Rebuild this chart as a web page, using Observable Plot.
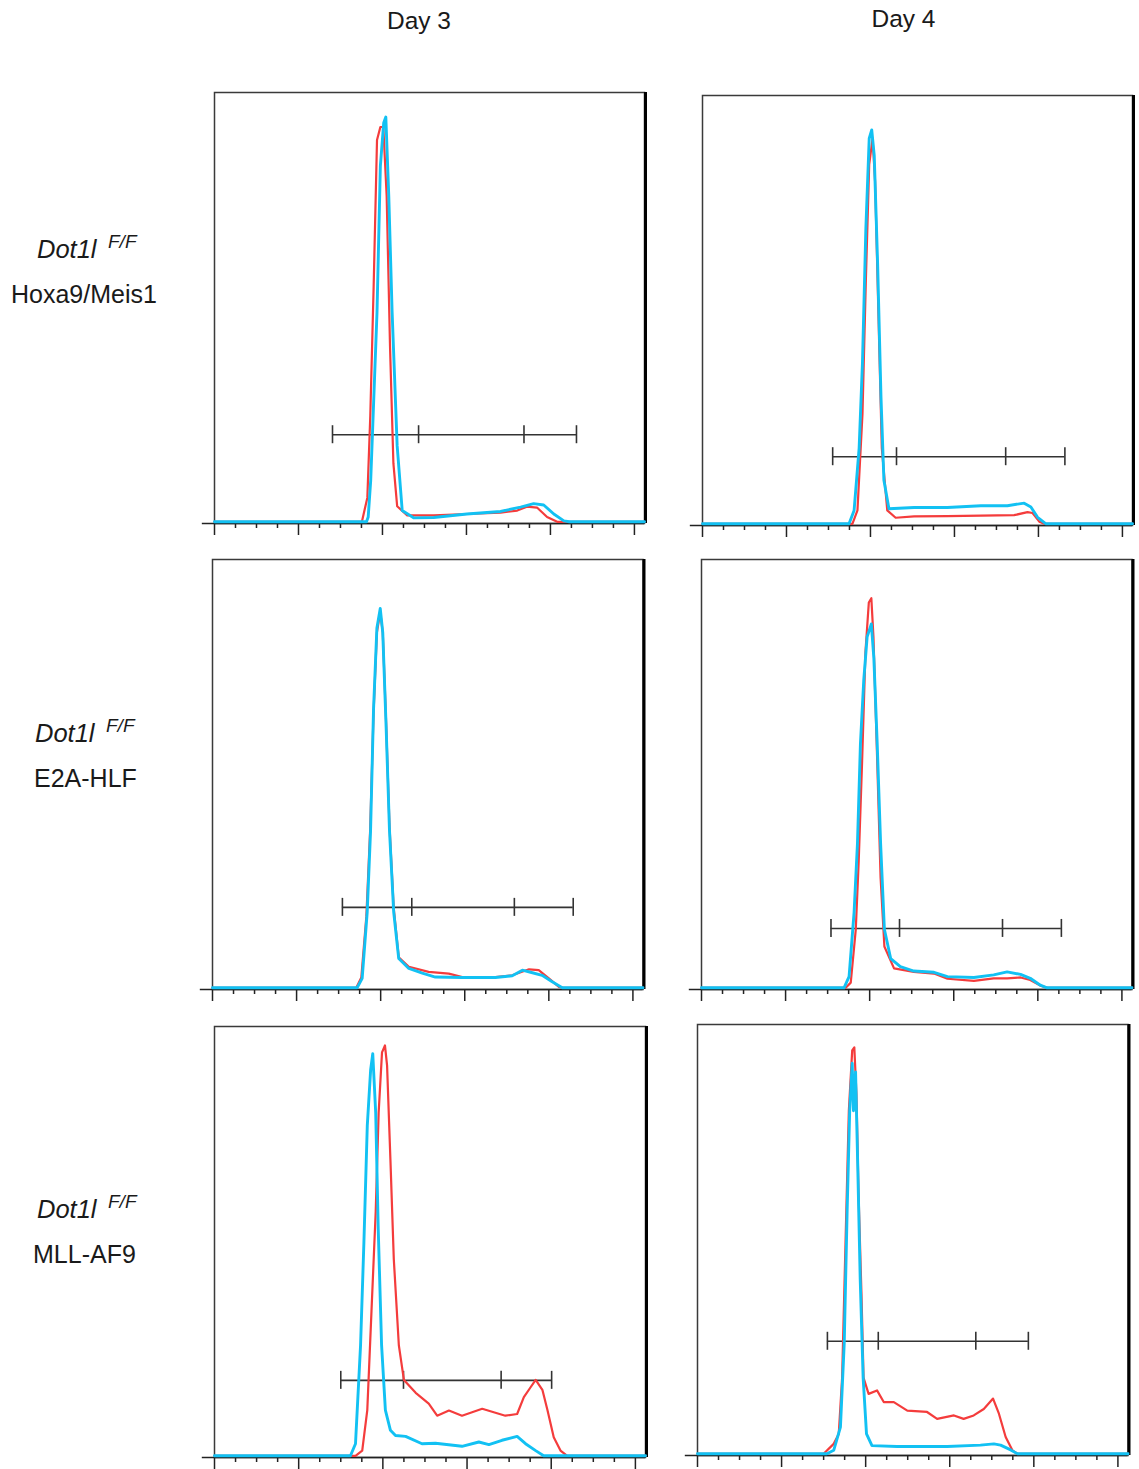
<!DOCTYPE html>
<html><head><meta charset="utf-8">
<script src="https://cdn.jsdelivr.net/npm/d3@7"></script>
<script src="https://cdn.jsdelivr.net/npm/@observablehq/plot@0.6"></script>
<style>
body{margin:0;background:#fff;}
#root{position:relative;width:1139px;height:1469px;background:#fff;font-family:"Liberation Sans",Arial,sans-serif;color:#1a1a1a;overflow:hidden;}
.lbl{position:absolute;white-space:nowrap;line-height:1;}
.panel{position:absolute;}
</style></head><body><div id="root"></div>
<script>
// ---------- text ----------
const columnTitles = ["Day 3", "Day 4"];
const geneName = "Dot1l";
const genotype = "F/F";
const rowLines = ["Hoxa9/Meis1", "E2A-HLF", "MLL-AF9"];

// ---------- axis ticks (channel units, 0–1024) ----------
const xDomain = [0, 1024];
const majorTicks = [0, 200, 400, 600, 800, 1000];
const minorTicks = [50, 100, 150, 250, 300, 350, 450, 500, 550, 650, 700, 750, 850, 900, 950];

// ---------- histogram series: [channel, % of panel height] ----------
const hoxa9Day3Red = [[0,0.4],[351,0.4],[364,6],[371,25],[379,55],[387,89],[395,92],[402,92],[410,76],[418,41],[426,14],[435,4],[459,1.9],[522,1.9],[601,2.2],[681,2.5],[721,3],[744,3.9],[768,3.7],[792,1.5],[816,0.4],[1024,0.4]];
const hoxa9Day3Cyan = [[0,0.4],[362,0.4],[366,1.5],[372,10],[387,49],[395,83],[403,93],[408,94.3],[415,76],[423,49],[435,18],[447,3],[475,1.3],[522,1.4],[601,2.2],[681,2.8],[729,3.8],[760,4.6],[784,4.3],[808,2.2],[832,0.6],[845,0.4],[1024,0.4]];
const hoxa9Day4Red = [[0,0.4],[357,0.4],[369,3.5],[381,26],[389,57],[397,84],[405,90],[411,80],[419,49],[427,18],[440,3.5],[460,1.8],[504,2.1],[583,2.2],[663,2.3],[742,2.4],[774,3.1],[786,2.9],[802,0.9],[814,0.4],[1024,0.4]];
const hoxa9Day4Cyan = [[0,0.4],[349,0.4],[361,3.5],[373,18],[381,38],[389,69],[397,90],[403,92],[409,86],[417,61],[425,30],[432,10.5],[444,3.9],[504,4.2],[583,4.2],[663,4.6],[726,4.6],[766,5.2],[782,4.3],[798,1.9],[818,0.4],[1024,0.4]];
const e2aDay3Red = [[0,0.4],[342,0.4],[354,2.8],[366,17],[375,37],[383,64],[391,83],[399,87.8],[405,83],[413,62],[421,38],[431,19],[443,7.5],[467,5.3],[514,4.1],[562,3.7],[594,2.9],[673,2.9],[713,3.3],[753,4.7],[776,4.5],[800,2.6],[824,0.6],[834,0.4],[1024,0.4]];
const e2aDay3Cyan = [[0,0.4],[344,0.4],[356,2.6],[368,18],[376,37],[383,65],[391,84],[399,88.6],[405,83],[413,61],[421,37],[431,18],[443,7.2],[467,4.9],[499,3.8],[530,2.9],[594,2.8],[673,2.8],[713,3.2],[737,4.5],[761,3.9],[784,3.3],[808,1.8],[832,0.4],[1024,0.4]];
const e2aDay4Red = [[0,0.4],[343,0.4],[355,1.6],[367,14],[374,30],[382,53],[390,78.5],[398,90],[404,91],[409,82],[418,53],[426,26],[435,10],[458,4.9],[505,4.1],[553,3.7],[585,2.5],[648,2],[695,2.6],[727,2.6],[759,2.8],[782,2.2],[806,0.9],[822,0.4],[1024,0.4]];
const e2aDay4Cyan = [[0,0.4],[339,0.4],[351,3],[363,18],[371,34],[378,57],[386,72],[394,82],[404,85],[410,77],[418,57],[426,34],[435,14],[450,7.2],[473,5.3],[505,4.3],[553,4],[585,3],[648,2.8],[695,3.4],[727,4.1],[759,3.5],[782,2.6],[806,1],[822,0.4],[1024,0.4]];
const mllDay3Red = [[0,0.4],[335,0.4],[351,1.6],[363,11],[373,34],[383,57],[390,80],[398,94],[405,95.6],[410,91],[418,69],[426,46],[438,26],[450,18],[478,15],[509,12.5],[529,9.7],[557,10.9],[588,9.7],[636,11.3],[691,9.7],[719,10.1],[735,14],[751,16.3],[763,18],[779,15.7],[791,11],[806,4.7],[822,1.6],[838,0.4],[1024,0.4]];
const mllDay3Cyan = [[0,0.4],[323,0.4],[335,3.2],[347,26],[355,50],[363,77],[371,90],[376,93.7],[383,80],[389,53],[397,26],[406,11],[418,6.3],[430,5.1],[454,4.9],[493,3.2],[525,3.3],[588,2.6],[628,3.6],[652,3],[683,4],[719,4.9],[739,3.2],[763,1.6],[782,0.4],[1024,0.4]];
const mllDay4Red = [[0,0.4],[300,0.4],[324,2.7],[336,5],[344,18],[352,49],[360,80],[368,94],[373,94.7],[378,84],[383,61],[390,37.5],[395,18],[407,14.3],[427,15.1],[443,12.4],[467,12.4],[499,10.4],[546,10.1],[570,8.5],[610,9.3],[633,8.5],[657,9.3],[681,10.8],[703,13.2],[717,9.7],[733,4.3],[749,1.2],[761,0.4],[1024,0.4]];
const mllDay4Cyan = [[0,0.4],[308,0.4],[324,1.2],[340,6.6],[349,26],[356,57],[362,80],[368,91],[371,80],[376,89],[381,68],[387,41],[394,18],[402,5],[415,2.3],[475,2.1],[594,2.1],[673,2.4],[705,2.7],[721,2.4],[745,1.3],[761,0.4],[1024,0.4]];

// ---------- gate markers: level and marker channels ----------
const gateLevels = [20.6, 16, 19.1, 14.2, 17.9, 26.5];
const gateMarkers = [
  [281, 486, 737, 862],
  [310, 462, 722, 863],
  [309, 474, 718, 858],
  [308, 471, 716, 856],
  [300, 449, 681, 801],
  [309, 430, 662, 787]
];
const redSeries = [hoxa9Day3Red, hoxa9Day4Red, e2aDay3Red, e2aDay4Red, mllDay3Red, mllDay4Red];
const cyanSeries = [hoxa9Day3Cyan, hoxa9Day4Cyan, e2aDay3Cyan, e2aDay4Cyan, mllDay3Cyan, mllDay4Cyan];

// ---------- layout (page pixels of each panel frame: left, right, top, baseline) ----------
const frames = [
  [214, 644, 92, 523],
  [702, 1132, 95, 525],
  [212, 642.5, 559, 989],
  [701, 1131.5, 559, 989],
  [214, 645, 1026, 1457],
  [697, 1127.5, 1024, 1455]
];
const RED = "#f43c3c", CYAN = "#12c1f3", INK = "#222";
const mL = 16, mR = 6, mT = 4, mB = 16;

const root = document.getElementById("root");

frames.forEach(([fl, fr, ft, fb], i) => {
  const w = (fr - fl) + mL + mR, h = (fb - ft) + mT + mB;
  const pxPerUnitY = (fb - ft) / 100;
  const halfMark = 9 / pxPerUnitY;
  const gy = gateLevels[i];
  const chart = Plot.plot({
    width: w, height: h,
    marginLeft: mL, marginRight: mR, marginTop: mT, marginBottom: mB,
    x: {domain: xDomain, axis: null},
    y: {domain: [0, 100], axis: null},
    style: {background: "transparent", overflow: "visible"},
    marks: [
      Plot.frame({stroke: "#3a3a3a", strokeWidth: 1.5}),
      Plot.ruleX([xDomain[1]], {stroke: "#000", strokeWidth: 3, dx: 1}),
      Plot.axisX({anchor: "bottom", ticks: minorTicks, tickSize: 5, tickFormat: () => "", label: null, stroke: INK, strokeWidth: 1.5}),
      Plot.axisX({anchor: "bottom", ticks: majorTicks, tickSize: 12, tickFormat: () => "", label: null, stroke: INK, strokeWidth: 1.5}),
      Plot.ruleY([0], {x1: -29, x2: xDomain[1], stroke: INK, strokeWidth: 1.5}),
      Plot.ruleY([gy], {x1: gateMarkers[i][0], x2: gateMarkers[i][3], stroke: "#333", strokeWidth: 1.6}),
      Plot.ruleX(gateMarkers[i], {y1: gy - halfMark, y2: gy + halfMark, stroke: "#333", strokeWidth: 1.6}),
      Plot.line(redSeries[i], {x: d => d[0], y: d => d[1], stroke: RED, strokeWidth: 2.2, strokeLinejoin: "round"}),
      Plot.line(cyanSeries[i], {x: d => d[0], y: d => d[1], stroke: CYAN, strokeWidth: 2.9, strokeLinejoin: "round"})
    ]
  });
  const holder = document.createElement("div");
  holder.className = "panel";
  holder.style.left = (fl - mL) + "px";
  holder.style.top = (ft - mT) + "px";
  holder.appendChild(chart);
  root.appendChild(holder);
});

// ---------- labels ----------
function addLabel(text, x, baseline, size, opts = {}) {
  const d = document.createElement("div");
  d.className = "lbl";
  d.textContent = text;
  d.style.fontSize = size + "px";
  d.style.top = (baseline - 0.85 * size) + "px";
  if (opts.center) { d.style.left = (x - 200) + "px"; d.style.width = "400px"; d.style.textAlign = "center"; }
  else d.style.left = x + "px";
  if (opts.italic) d.style.fontStyle = "italic";
  root.appendChild(d);
}
addLabel(columnTitles[0], 419, 30, 24.5, {center: true});
addLabel(columnTitles[1], 903.5, 28, 24.5, {center: true});
const rowLabelPos = [
  {gx: 37, gb: 259, sx: 108, sb: 248, lx: 11, lb: 303},
  {gx: 35, gb: 743, sx: 106, sb: 732, lx: 34, lb: 787},
  {gx: 37, gb: 1219, sx: 108, sb: 1208, lx: 33, lb: 1263}
];
rowLines.forEach((name, r) => {
  const p = rowLabelPos[r];
  addLabel(geneName, p.gx, p.gb, 25.5, {italic: true});
  addLabel(genotype, p.sx, p.sb, 19, {italic: true});
  addLabel(name, p.lx, p.lb, 25);
});
</script></body></html>
